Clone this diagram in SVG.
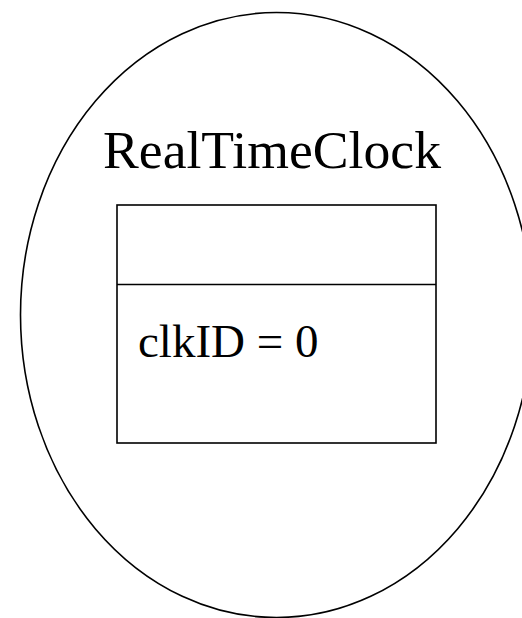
<svg xmlns="http://www.w3.org/2000/svg" width="522" height="618" viewBox="0 0 522 618">
<style>
.s{fill:none;stroke:#000;stroke-width:1.6}
.t{font-family:"Liberation Serif","Times New Roman",serif;fill:#000}
</style>
<rect width="522" height="618" fill="#fff"/>
<g id="state">
<ellipse class="s" cx="276.5" cy="315" rx="256" ry="302.5"/>
<text class="t" x="103" y="168" font-size="53" textLength="338" lengthAdjust="spacingAndGlyphs">RealTimeClock</text>
</g>
<g id="class">
<rect class="s" x="117" y="205" width="319" height="238"/>
<line class="s" x1="117" y1="284.5" x2="436" y2="284.5"/>
<text class="t" x="138" y="357" font-size="47">clkID = 0</text>
</g>
<g id="connectors"/>
</svg>
